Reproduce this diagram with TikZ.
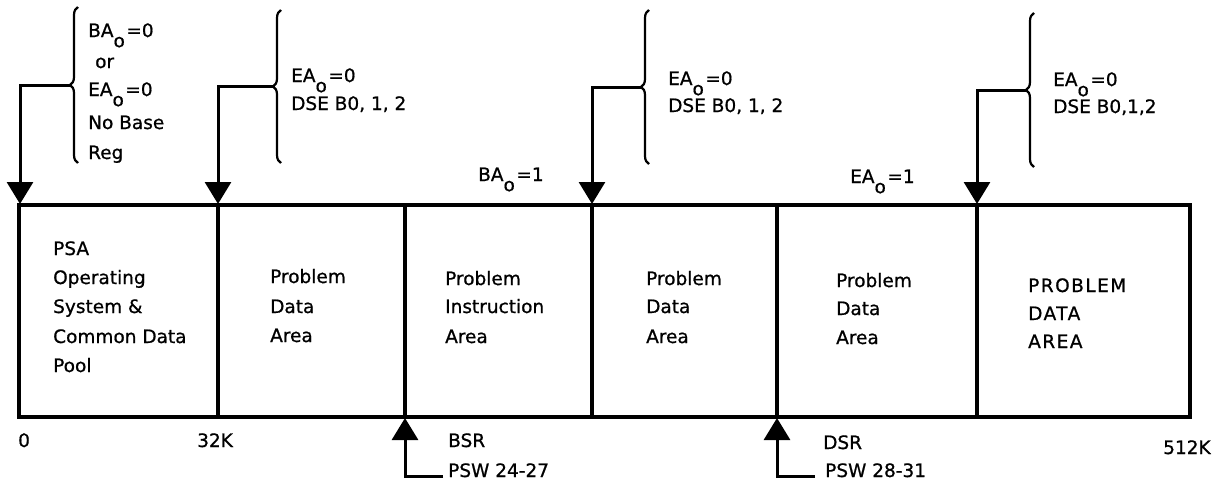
\documentclass[tikz,border=0pt]{standalone}
\usepackage{fontspec}
\setmainfont{DejaVu Sans}[FakeBold=0.8]
\usetikzlibrary{arrows.meta,decorations.pathreplacing}
\newcommand{\osub}{\raisebox{-0.55em}{o}\kern1.5pt}
\begin{document}
\begin{tikzpicture}[x=1pt,y=-1pt,
  boxline/.style={line width=4pt},
  divline/.style={line width=3.5pt},
  conn/.style={line width=3pt},
  tipend/.style={-{Triangle[width=26pt,length=22pt]}},
  br/.style={line width=2.2pt, decorate, decoration={brace,amplitude=8pt,aspect=0.5}},
  lbl/.style={anchor=base west, inner sep=0pt, font=\fontsize{18.5}{22}\selectfont},
  wide/.style={lbl, font=\fontsize{18.5}{22}\selectfont\addfontfeatures{LetterSpace=8}}]
\useasboundingbox (0,0) rectangle (1227,482);
\fill[white] (0,0) rectangle (1227,482);

% box corners and divider ends
\coordinate (tl) at (19,205);
\coordinate (br) at (1190,417);
\coordinate (d1t) at (218,205); \coordinate (d1b) at (218,417);
\coordinate (d2t) at (405,205); \coordinate (d2b) at (405,417);
\coordinate (d3t) at (592,205); \coordinate (d3b) at (592,417);
\coordinate (d4t) at (777,205); \coordinate (d4b) at (777,417);
\coordinate (d5t) at (977,205); \coordinate (d5b) at (977,417);

\draw[boxline] (tl) rectangle (br);
\foreach \i in {1,...,5} \draw[divline] (d\i t) -- (d\i b);

% arrow targets (top)
\coordinate (a1) at (20,204);
\coordinate (a2) at (218,204);
\coordinate (a3) at (592,204);
\coordinate (a4) at (977,204);

% braces
\draw[br] (78,163) -- (78,7);
\draw[br] (281,163) -- (281,10);
\draw[br] (649,164) -- (649,10);
\draw[br] (1034,167) -- (1034,13);
\coordinate (b1) at (71,85);
\coordinate (b2) at (274,86.5);
\coordinate (b3) at (642,87);
\coordinate (b4) at (1027,90);

\draw[conn,tipend] (b1) -| (a1);
\draw[conn,tipend] (b2) -| (a2);
\draw[conn,tipend] (b3) -| (a3);
\draw[conn,tipend] (b4) -| (a4);

% bottom arrows
\coordinate (u1) at (405,418);
\coordinate (u2) at (777,418);
\coordinate (q1) at (443,476);
\coordinate (q2) at (815,476);
\draw[conn,tipend] (q1) -| (u1);
\draw[conn,tipend] (q2) -| (u2);

% brace labels
\node[lbl] (g1a) at (88,37) {BA\osub=0};
\node[lbl] (g1b) at (95,68) {or};
\node[lbl] (g1c) at (88,96) {EA\osub=0};
\node[lbl] (g1d) at (88,129) {No Base};
\node[lbl] (g1e) at (88,159) {Reg};

\node[lbl] (g2a) at (291,82) {EA\osub=0};
\node[lbl] (g2b) at (291,110) {DSE B0, 1, 2};

\node[lbl] (g3a) at (668,85) {EA\osub=0};
\node[lbl] (g3b) at (668,112) {DSE B0, 1, 2};

\node[lbl] (g4a) at (1053,86) {EA\osub=0};
\node[lbl] (g4b) at (1053,113) {DSE B0,1,2};

\node[lbl] (ba1) at (478,181) {BA\osub=1};
\node[lbl] (ea1) at (850,183) {EA\osub=1};

% box texts
\node[lbl] (p1a) at (53,255) {PSA};
\node[lbl] (p1b) at (53,284) {Operating};
\node[lbl] (p1c) at (53,313) {System \&};
\node[lbl] (p1d) at (53,343) {Common Data};
\node[lbl] (p1e) at (53,372) {Pool};

\node[lbl] (p2a) at (270,283) {Problem};
\node[lbl] (p2b) at (270,313) {Data};
\node[lbl] (p2c) at (270,342) {Area};

\node[lbl] (p3a) at (445,285) {Problem};
\node[lbl] (p3b) at (445,313) {Instruction};
\node[lbl] (p3c) at (445,343) {Area};

\node[lbl] (p4a) at (646,285) {Problem};
\node[lbl] (p4b) at (646,313) {Data};
\node[lbl] (p4c) at (646,343) {Area};

\node[lbl] (p5a) at (836,287) {Problem};
\node[lbl] (p5b) at (836,315) {Data};
\node[lbl] (p5c) at (836,344) {Area};

\node[wide] (p6a) at (1028,292) {PROBLEM};
\node[wide] (p6b) at (1028,320) {DATA};
\node[wide] (p6c) at (1028,348) {AREA};

% bottom labels
\node[lbl] (z0) at (18,447) {0};
\node[lbl] (z32) at (197,447) {32K};
\node[lbl] (bsr) at (448,447) {BSR};
\node[lbl] (psw1) at (448,477) {PSW 24-27};
\node[lbl] (dsr) at (823,449) {DSR};
\node[lbl] (psw2) at (825,477) {PSW 28-31};
\node[lbl] (z512) at (1163,454) {512K};
\end{tikzpicture}
\end{document}
